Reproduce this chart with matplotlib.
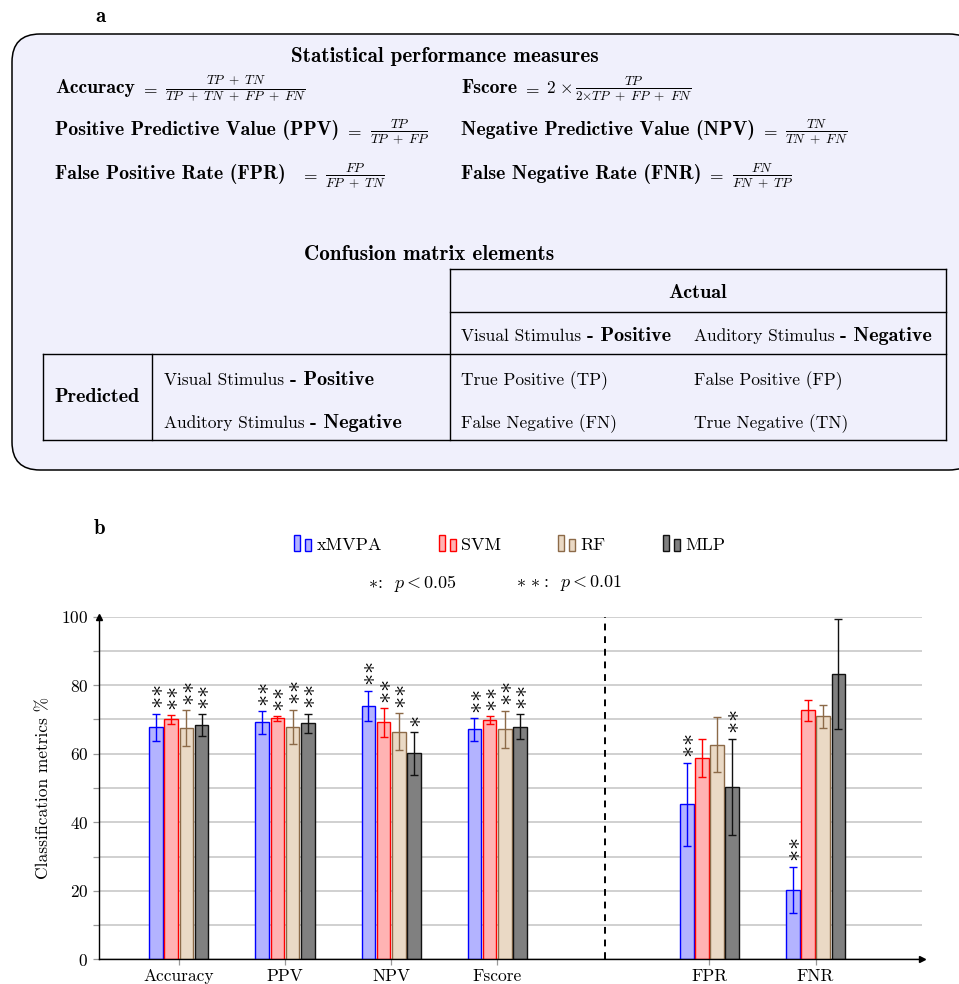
import matplotlib
matplotlib.use('Agg')
import matplotlib.pyplot as plt
from matplotlib.patches import FancyBboxPatch, Rectangle
from matplotlib.legend_handler import HandlerBase
import numpy as np

plt.rcParams['mathtext.fontset'] = 'cm'
plt.rcParams['font.family'] = 'cmr10'
plt.rcParams['axes.formatter.use_mathtext'] = True

# ---------------- data ----------------
categories = ['Accuracy', 'PPV', 'NPV', 'Fscore', 'FPR', 'FNR']
methods = ['xMVPA', 'SVM', 'RF', 'MLP']
mean_xmvpa = [67.7, 69.2, 74.0, 67.1, 45.2, 20.3]
mean_svm = [70.0, 70.3, 69.2, 69.8, 58.8, 72.7]
mean_rf = [67.5, 67.9, 66.4, 67.1, 62.6, 70.9]
mean_mlp = [68.4, 68.9, 60.1, 67.9, 50.4, 83.3]
err_xmvpa = [4.0, 3.3, 4.4, 3.3, 12.2, 6.7]
err_svm = [1.2, 0.6, 4.2, 1.2, 5.5, 3.1]
err_rf = [5.3, 5.0, 5.4, 5.5, 8.0, 3.3]
err_mlp = [3.2, 2.8, 6.2, 3.6, 14.0, 16.1]
stars_xmvpa = [2, 2, 2, 2, 2, 2]
stars_svm = [2, 2, 2, 2, 0, 0]
stars_rf = [2, 2, 2, 2, 0, 0]
stars_mlp = [2, 2, 1, 2, 2, 0]
yticks = [0, 20, 40, 60, 80, 100]

means = [mean_xmvpa, mean_svm, mean_rf, mean_mlp]
errs = [err_xmvpa, err_svm, err_rf, err_mlp]
stars = [stars_xmvpa, stars_svm, stars_rf, stars_mlp]

fills = ['#b3b3ff', '#ffb3b3', '#ead9c5', '#808080']
edges = ['#0000ff', '#ff0000', '#8c6a48', '#111111']

W, H = 959, 984
fig = plt.figure(figsize=(W / 100, H / 100), dpi=100)

# ---------------- panel a (pixel coordinate overlay) ----------------
axa = fig.add_axes([0, 0, 1, 1], zorder=0)
axa.set_xlim(0, W)
axa.set_ylim(H, 0)
axa.axis('off')

FS = 12.5      # regular text
FT = 15.2      # bold headings
FL = 14.2      # bold formula names
FBT = 14.5     # bold table text
FF = 13.6      # fraction (rendered at 0.7 of this)
PX = 0.72      # points per pixel

axa.text(100, 16, 'a', family='cmb10', fontsize=15, ha='center', va='center')
axa.text(100, 528, 'b', family='cmb10', fontsize=15, ha='center', va='center')

box = FancyBboxPatch((12, 34), 965, 436, boxstyle='round,pad=0,rounding_size=28',
                     fc='#f0f0fc', ec='black', lw=1.1)
axa.add_patch(box)

axa.text(445, 57, 'Statistical performance measures', family='cmb10', fontsize=FT,
         ha='center', va='center')


def chain(x, y, parts):
    """parts: list of (string, kwargs, gap_px); each piece follows the previous one."""
    prev = None
    for s, kw, gap in parts:
        if prev is None:
            prev = axa.text(x, y, s, ha='left', va='baseline', **kw)
        else:
            prev = axa.annotate(s, xy=(1, y), xycoords=(prev, axa.transData),
                                xytext=(gap * PX, 0), textcoords='offset points',
                                ha='left', va='baseline', **kw)
    return prev


B = dict(family='cmb10', fontsize=FL)
BT = dict(family='cmb10', fontsize=FBT)
R = dict(fontsize=FS)
F = dict(fontsize=FF)

rows_y = [93, 135, 179]
left_rows = [
    [('Accuracy', B, 0), (r'$=$', R, 5),
     (r'$\frac{TP\ +\ TN}{TP\ +\ TN\ +\ FP\ +\ FN}$', F, 8)],
    [('Positive Predictive Value (PPV)', B, 0), (r'$=$', R, 5),
     (r'$\frac{TP}{TP\ +\ FP}$', F, 8)],
    [('False Positive Rate (FPR)', B, 0), (r'$=$', R, 14),
     (r'$\frac{FP}{FP\ +\ TN}$', F, 8)],
]
right_rows = [
    [('Fscore', B, 0), (r'$=$', R, 5), (r'$2$', R, 6), (r'$\times$', R, 4),
     (r'$\frac{TP}{2{\times}TP\ +\ FP\ +\ FN}$', F, 3)],
    [('Negative Predictive Value (NPV)', B, 0), (r'$=$', R, 5),
     (r'$\frac{TN}{TN\ +\ FN}$', F, 8)],
    [('False Negative Rate (FNR)', B, 0), (r'$=$', R, 5),
     (r'$\frac{FN}{FN\ +\ TP}$', F, 8)],
]
for parts, y in zip(left_rows, rows_y):
    chain(55, y, parts)
for parts, y in zip(right_rows, rows_y):
    chain(461, y, parts)

axa.text(429, 255, 'Confusion matrix elements', family='cmb10', fontsize=FT,
         ha='center', va='center')

segs = [((450, 946), (269, 269)), ((450, 946), (312, 312)), ((43, 946), (354, 354)),
        ((43, 946), (440, 440)), ((450, 450), (269, 440)), ((946, 946), (269, 440)),
        ((43, 43), (354, 440)), ((152, 152), (354, 440))]
for xs, ys in segs:
    axa.plot(xs, ys, color='black', lw=1.0, solid_capstyle='projecting')


def mixed(x, y, reg, bold):
    chain(x, y, [(reg, R, 0), (bold, BT, 0)])


axa.text(698, 293, 'Actual', family='cmb10', fontsize=FBT, ha='center', va='center')
mixed(461, 341, 'Visual Stimulus ', '- Positive')
mixed(694, 341, 'Auditory Stimulus ', '- Negative')
axa.text(97, 397, 'Predicted', family='cmb10', fontsize=FBT, ha='center', va='center')
mixed(164, 385, 'Visual Stimulus ', '- Positive')
mixed(164, 428, 'Auditory Stimulus ', '- Negative')
axa.text(461, 385, 'True Positive (TP)', fontsize=FS, ha='left', va='baseline')
axa.text(694, 385, 'False Positive (FP)', fontsize=FS, ha='left', va='baseline')
axa.text(461, 428, 'False Negative (FN)', fontsize=FS, ha='left', va='baseline')
axa.text(694, 428, 'True Negative (TN)', fontsize=FS, ha='left', va='baseline')

# ---------------- panel b ----------------
left, right = 99.3 / W, 921.7 / W
bottom, top = 1 - 959.3 / H, 1 - 616.7 / H
ax = fig.add_axes([left, bottom, right - left, top - bottom], zorder=2)
ax.patch.set_alpha(0)

x = np.arange(len(categories)) + 1.0
x[4:] += 1.0  # gap before the rate metrics
bw = 0.129
step = 0.143
nm = len(methods)
bar_handles = []
for i in range(nm):
    xi = x + (i - (nm - 1) / 2) * step
    b = ax.bar(xi, means[i], bw, color=fills[i], edgecolor=edges[i], lw=1.0, zorder=3,
               label=methods[i])
    bar_handles.append(b)
    ax.errorbar(xi, means[i], yerr=errs[i], fmt='none', ecolor=edges[i], elinewidth=1.0,
                capsize=2.6, capthick=1.0, zorder=4)
    for xx, m, e, s in zip(xi, means[i], errs[i], stars[i]):
        if s > 0:
            label = r'$' + r'\!'.join([r'\ast'] * s) + r'$'
            ax.annotate(label, xy=(xx, m + e), xytext=(0.8, 4),
                        textcoords='offset points', rotation=270, ha='center',
                        va='bottom', fontsize=17, zorder=5)

ax.axvline(5.02, color='black', ls=(0, (3.5, 3)), lw=1.4, zorder=3)

ax.set_xlim(0.25, 8.0)
ax.set_ylim(0, 100)
ax.set_yticks(yticks)
ax.set_yticks(np.arange(10, 100, 20), minor=True)
ax.set_xticks(x)
ax.set_xticklabels(categories, fontsize=12.5)
ax.tick_params(axis='y', labelsize=12.5)
ax.tick_params(axis='both', which='both', direction='out', length=4, color='#999999',
               width=0.9)
ax.tick_params(axis='x', pad=3)
ax.tick_params(axis='y', pad=4)
ax.yaxis.grid(True, which='both', color='#c4c4c4', lw=1.1, zorder=0)
ax.set_axisbelow(True)
for s in ['top', 'right']:
    ax.spines[s].set_visible(False)
for s in ['left', 'bottom']:
    ax.spines[s].set_linewidth(1.0)
    ax.spines[s].set_zorder(6)
ax.plot(1, 0, marker='>', color='black', ms=4, transform=ax.transAxes, clip_on=False,
        zorder=7)
ax.plot(0, 1, marker='^', color='black', ms=4, transform=ax.transAxes, clip_on=False,
        zorder=7)
ax.set_ylabel('Classification metrics %', fontsize=12.5, labelpad=7)


class HandlerTwoBars(HandlerBase):
    def create_artists(self, legend, orig_handle, xdescent, ydescent, width, height,
                       fontsize, trans):
        patch = orig_handle.patches[0] if hasattr(orig_handle, 'patches') else orig_handle
        fc = patch.get_facecolor()
        ec = patch.get_edgecolor()
        w = width * 0.34
        r1 = Rectangle((-xdescent, -ydescent - height * 0.1), w, height * 1.25, fc=fc,
                       ec=ec, lw=1.0, transform=trans)
        r2 = Rectangle((-xdescent + width * 0.62, -ydescent - height * 0.1), w,
                       height * 0.95, fc=fc, ec=ec, lw=1.0, transform=trans)
        return [r1, r2]


leg = fig.legend(bar_handles, methods, loc='center', bbox_to_anchor=(509.5 / W, 1 - 545 / H),
                 ncol=4, frameon=False, fontsize=13, handlelength=1.0, handleheight=0.7,
                 handletextpad=0.25, columnspacing=3.15,
                 handler_map={type(bar_handles[0]): HandlerTwoBars()})

fig.text(412 / W, 1 - 583 / H, r'$\ast$:  $p < 0.05$', fontsize=13, ha='center',
         va='center')
fig.text(569 / W, 1 - 583 / H, r'$\ast\,\ast$:  $p < 0.01$', fontsize=13, ha='center',
         va='center')

fig.savefig('out.png', dpi=100)
